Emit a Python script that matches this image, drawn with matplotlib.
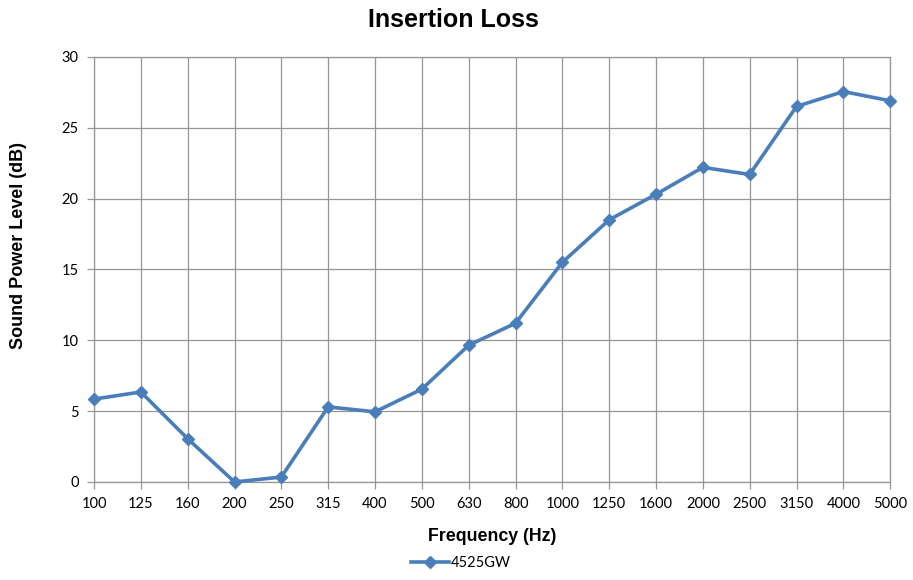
import matplotlib
matplotlib.use("Agg")
import matplotlib.pyplot as plt
import numpy as np

freqs = ["100", "125", "160", "200", "250", "315", "400", "500", "630", "800",
         "1000", "1250", "1600", "2000", "2500", "3150", "4000", "5000"]
loss_4525gw = [5.85, 6.35, 3.05, 0.0, 0.35, 5.3, 4.95, 6.55, 9.65, 11.2,
               15.5, 18.5, 20.3, 22.2, 21.7, 26.5, 27.55, 26.9]

line_color = "#4A7EBB"
grid_color = "#969696"

fig = plt.figure(figsize=(9.13, 5.8), dpi=100)
ax = fig.add_axes([0.103, 0.169, 0.872, 0.733])

x = np.arange(len(freqs))
ax.plot(x, loss_4525gw, color=line_color, lw=2.6, marker="D", ms=6.5,
        label="4525GW", solid_joinstyle="round", clip_on=False, zorder=3)

ax.set_xlim(0, len(freqs) - 1)
ax.set_ylim(0, 30)
ax.set_yticks(np.arange(0, 31, 5))
ax.set_xticks(x)
ax.set_xticklabels(freqs)

ax.grid(True, color=grid_color, lw=0.9)
ax.set_axisbelow(True)
for side in ["left", "bottom", "right", "top"]:
    ax.spines[side].set_color(grid_color)
    ax.spines[side].set_linewidth(0.9)
ax.tick_params(axis="both", colors=grid_color, length=5, width=0.9,
               labelcolor="black", labelsize=10.5)
for lab in ax.get_xticklabels() + ax.get_yticklabels():
    lab.set_family("Lato")
ax.tick_params(axis="x", pad=6)
ax.tick_params(axis="y", pad=6)

fig.text(0.497, 0.965, "Insertion Loss", fontsize=18, fontweight="bold",
         family="Liberation Sans", ha="center", va="center")
ax.set_xlabel("Frequency (Hz)", fontsize=12.8, fontweight="bold",
              family="Liberation Sans", labelpad=12)
fig.text(0.020, 0.576, "Sound Power Level (dB)", fontsize=13, fontweight="bold",
         family="Liberation Sans", rotation=90, ha="center", va="center")

leg = fig.legend(loc="lower center", bbox_to_anchor=(0.505, -0.005), frameon=False,
                 prop={"family": "Lato", "size": 10.5}, handlelength=2.6,
                 handletextpad=0.1)

fig.savefig("out.png", dpi=100)
